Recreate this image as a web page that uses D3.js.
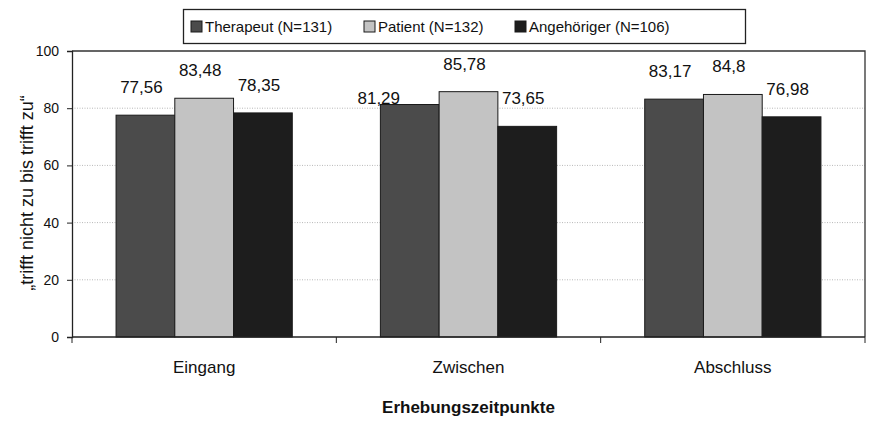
<!DOCTYPE html>
<html lang="de">
<head>
    <meta charset="UTF-8">
    <title>Erhebungszeitpunkte</title>
    <script src="https://d3js.org/d3.v7.min.js"></script>
    <style>
        body { margin: 0; background: #fff; }
        text { font-family: Arial, "Liberation Sans", sans-serif; fill: #111; }
    </style>
</head>
<body>
<script>
    const width = 870;
    const height = 422;

    // data
    const categories = ["Eingang", "Zwischen", "Abschluss"];
    const series = ["Therapeut (N=131)", "Patient (N=132)", "Angehöriger (N=106)"];
    const therapeut = [77.56, 81.29, 83.17];
    const patient = [83.48, 85.78, 84.8];
    const angehoeriger = [78.35, 73.65, 76.98];
    const yTicks = [0, 20, 40, 60, 80, 100];

    const values = [therapeut, patient, angehoeriger];
    const colors = ["#4b4b4b", "#c3c3c3", "#1d1d1d"];

    const margin = {top: 51, right: 5, bottom: 85, left: 72};

    const svg = d3.select("body").append("svg")
            .attr("width", width).attr("height", height);

    const x0 = d3.scaleBand()
            .domain(categories)
            .range([margin.left, width - margin.right])
            .paddingInner(0).paddingOuter(0);

    const x1 = d3.scaleBand()
            .domain(d3.range(series.length))
            .range([0, x0.bandwidth()])
            .paddingOuter(0.75).paddingInner(0);

    const y = d3.scaleLinear()
            .domain([0, 100])
            .range([height - margin.bottom, margin.top]);

    // gridlines (dotted)
    svg.append("g")
            .selectAll("line")
            .data(yTicks.filter(d => d > 0 && d < 100))
            .enter().append("line")
            .attr("x1", margin.left).attr("x2", width - margin.right)
            .attr("y1", d => y(d)).attr("y2", d => y(d))
            .style("stroke", "#b8b8b8")
            .style("stroke-dasharray", "1,1.5");

    // plot frame (top and right)
    svg.append("path")
            .attr("d", `M${margin.left},${y(100)}H${width - margin.right}V${y(0)}`)
            .style("fill", "none")
            .style("stroke", "#333")
            .style("stroke-width", 1.3);

    // bars
    const rows = [];
    categories.forEach((c, i) => {
        series.forEach((s, j) => rows.push({cat: c, s: j, v: values[j][i]}));
    });

    svg.append("g").selectAll("rect")
            .data(rows)
            .enter().append("rect")
            .attr("x", d => x0(d.cat) + x1(d.s))
            .attr("y", d => y(d.v))
            .attr("width", x1.bandwidth())
            .attr("height", d => y(0) - y(d.v))
            .style("fill", d => colors[d.s])
            .style("stroke", "#1a1a1a")
            .style("stroke-width", 1);

    // value labels (one label was moved by hand in the original)
    const nudge = {"81,29": [-27, 21]};
    svg.append("g").selectAll("text")
            .data(rows)
            .enter().append("text")
            .text(d => String(d.v).replace(".", ","))
            .attr("x", d => x0(d.cat) + x1(d.s) + x1.bandwidth() / 2 - 4
                    + (nudge[String(d.v).replace(".", ",")] || [0, 0])[0])
            .attr("y", d => y(d.v) - 22
                    + (nudge[String(d.v).replace(".", ",")] || [0, 0])[1])
            .attr("text-anchor", "middle")
            .style("font-size", "17px");

    // y axis
    const yAxis = d3.axisLeft(y).tickValues(yTicks).tickSize(5).tickPadding(8);
    const gy = svg.append("g")
            .attr("transform", `translate(${margin.left},0)`)
            .call(yAxis);
    gy.select(".domain").style("stroke", "#222").style("stroke-width", 1.3);
    gy.selectAll(".tick line").style("stroke", "#222");
    gy.selectAll(".tick text").style("font-size", "14px").style("font-family", "Arial, 'Liberation Sans', sans-serif").style("fill", "#111");

    // x axis: ticks at category boundaries
    const gx = svg.append("g")
            .attr("transform", `translate(0,${y(0)})`);
    gx.append("line")
            .attr("x1", margin.left).attr("x2", width - margin.right)
            .style("stroke", "#222").style("stroke-width", 1.3);
    gx.selectAll("line.tick")
            .data(categories.map(c => x0(c)).concat([x0.range()[1]]))
            .enter().append("line")
            .attr("class", "tick")
            .attr("x1", d => d).attr("x2", d => d)
            .attr("y1", 0).attr("y2", 6)
            .style("stroke", "#222");
    gx.selectAll("text")
            .data(categories)
            .enter().append("text")
            .attr("x", d => x0(d) + x0.bandwidth() / 2)
            .attr("y", 36)
            .attr("text-anchor", "middle")
            .style("font-size", "17px")
            .text(d => d);

    // axis titles
    svg.append("text")
            .attr("x", (margin.left + width - margin.right) / 2)
            .attr("y", 413)
            .attr("text-anchor", "middle")
            .style("font-size", "17px")
            .style("font-weight", "bold")
            .text("Erhebungszeitpunkte");

    svg.append("text")
            .attr("transform", `translate(33,${(y(0) + y(100)) / 2 - 1}) rotate(-90)`)
            .attr("text-anchor", "middle")
            .style("font-size", "18px")
            .text("„trifft nicht zu bis trifft zu“");

    // legend
    const legend = svg.append("g").attr("class", "legend");
    legend.append("rect")
            .attr("x", 183.5).attr("y", 9.5)
            .attr("width", 562).attr("height", 34)
            .style("fill", "#fff")
            .style("stroke", "#222")
            .style("stroke-width", 1.3);
    const legendX = [191, 364, 515];
    const items = legend.selectAll("g.item")
            .data(series)
            .enter().append("g")
            .attr("class", "item")
            .attr("transform", (d, i) => `translate(${legendX[i]},21)`);
    items.append("rect")
            .attr("width", 11).attr("height", 11)
            .style("fill", (d, i) => colors[i])
            .style("stroke", "#1a1a1a");
    items.append("text")
            .attr("x", 14).attr("y", 11)
            .style("font-size", "15px")
            .text(d => d);
</script>
</body>
</html>
